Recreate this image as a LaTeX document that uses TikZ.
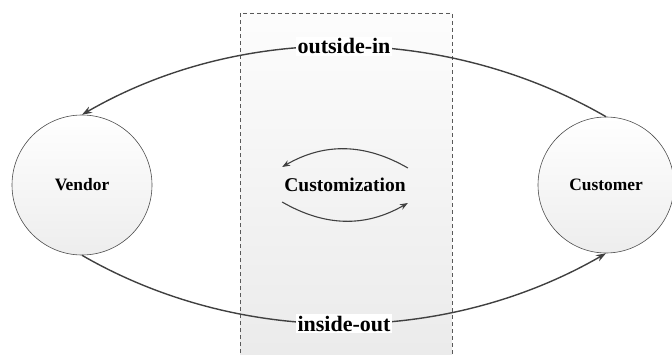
\documentclass[tikz,border=0pt]{standalone}
\usepackage{fontspec}
\setmainfont{Liberation Serif}
\usetikzlibrary{arrows.meta}

\begin{document}
\begin{tikzpicture}[x=1pt, y=1pt, >={Stealth[length=10pt,width=7pt]},
    party/.style={circle, draw=black!70, line width=0.6pt, top color=white, bottom color=black!7, font=\fontsize{17.4}{20}\selectfont\bfseries, inner sep=0pt},
    flow/.style={->, line width=1.4pt, draw=black!75, fill=none},
    tag/.style={fill=white, inner sep=1.5pt, font=\fontsize{22}{24}\selectfont\bfseries}]
    \useasboundingbox (0, 0) rectangle (672, 354);
    % customization zone
    \draw[dash pattern=on 4pt off 3pt, black!65, line width=0.6pt, top color=black!1, bottom color=black!8] (240, -6) rectangle (452, 341);
    \node[party, minimum size=140pt] (vendor) at (82, 169) {Vendor};
    \node[party, minimum size=136pt] (customer) at (606, 169) {Customer};
    \node[inner sep=2pt, font=\fontsize{19.5}{22}\selectfont\bfseries] (custom) at (345, 169) {Customization};
    % the two flows
    \draw[flow] (customer.north) to[out=150, in=30, looseness=0.9] node[tag] (outin) {outside-in} (vendor.north);
    \draw[flow] (vendor.south) to[out=-30, in=-150, looseness=0.9] node[tag] (inout) {inside-out} (customer.south);
    % loop round customization
    \draw[flow, line width=1.1pt, >={Stealth[length=8pt,width=6pt]}] ([yshift=17pt]custom.east) to[out=150, in=30] ([yshift=18pt]custom.west);
    \draw[flow, line width=1.1pt, >={Stealth[length=8pt,width=6pt]}] ([yshift=-17pt]custom.west) to[out=-30, in=-150] ([yshift=-18pt]custom.east);
\end{tikzpicture}
\end{document}
